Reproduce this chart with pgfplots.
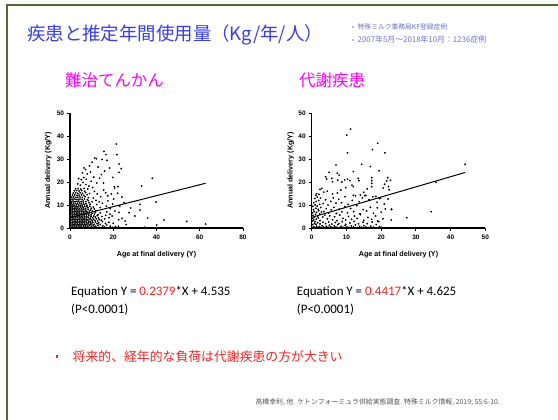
\documentclass[border=0pt]{standalone}
\usepackage{fontspec}
\setmainfont{Liberation Sans}
\newfontfamily\jp{Noto Sans CJK JP}
\newfontfamily\calib{Carlito}
\usepackage{pgfplots}
\pgfplotsset{compat=1.18}
\definecolor{frameGreen}{RGB}{84,106,48}
\definecolor{titleBlue}{RGB}{58,62,232}
\definecolor{noteBlue}{RGB}{105,115,205}
\definecolor{magentaT}{RGB}{255,0,255}
\definecolor{redT}{RGB}{245,35,35}
\definecolor{footGray}{RGB}{85,85,85}
\pgfplotsset{
  scatterstyle/.style={
    scale only axis, height=115bp,
    xmin=0, ymin=0, ymax=50,
    axis x line*=bottom, axis y line*=left,
    axis line style={line width=1.1bp, black},
    tick align=outside, major tick length=3bp,
    tick style={line width=0.9bp, black},
    ytick={0,10,20,30,40,50},
    /pgf/number format/assume math mode=true,
    tick label style={font=\fontsize{6.5}{7}\selectfont\bfseries},
    label style={font=\fontsize{7.2}{8}\selectfont\bfseries},
    yticklabel style={xshift=0.5bp},
    ylabel={Annual delivery (Kg/Y)},
    xlabel={Age at final delivery (Y)},
    xlabel style={at={(axis description cs:0.5,-0.235)}, anchor=center},
    clip=false,
  },
  dots/.style={only marks, mark=*, mark size=0.68bp, black, mark options={fill=black, draw=black}},
}
\begin{document}
\begin{tikzpicture}[x=1bp,y=1bp]
\path[use as bounding box] (0bp,0bp) rectangle (558bp,420bp);
\fill[white] (0bp,0bp) rectangle (558bp,420bp);
\draw[frameGreen, line width=2.3bp] (7bp,0bp) -- (7bp,415bp) -- (558bp,415bp);

\node[anchor=west, text=titleBlue, font=\jp\fontsize{18.5}{20}\selectfont, inner sep=0pt] at (27bp,385bp) {疾患と推定年間使用量（Kg/年/人）};
\fill[noteBlue] (353bp,393bp) circle (0.9bp);
\fill[noteBlue] (353bp,380bp) circle (0.9bp);
\node[anchor=west, text=noteBlue, font=\jp\fontsize{6.8}{7}\selectfont, inner sep=0pt] at (357.5bp,393bp) {特殊ミルク事務局KF登録症例};
\node[anchor=west, text=noteBlue, font=\jp\fontsize{7.9}{8}\selectfont, inner sep=0pt] at (357.5bp,380bp) {2007年5月～2018年10月：1236症例};

\node[anchor=west, text=magentaT, font=\jp\fontsize{16.5}{18}\selectfont, inner sep=0pt] at (65bp,340bp) {難治てんかん};
\node[anchor=west, text=magentaT, font=\jp\fontsize{16.5}{18}\selectfont, inner sep=0pt] at (299bp,340bp) {代謝疾患};

% Left plot
\begin{axis}[scatterstyle, at={(70bp,192bp)}, anchor=south west, width=173bp,
  xmax=80, xtick={0,20,40,60,80},
  ylabel style={at={(axis description cs:-0.125,0.5)}, anchor=center}]
\addplot[dots] coordinates {
(0.3,0.2)(1.1,0.3)(1.9,0.1)(2.8,0.2)(3.6,0.3)(4.4,0.1)(5.2,0.2)(6.1,0.3)(6.9,0.1)(7.7,0.2)(8.6,0.3)(9.5,0.1)(10.4,0.2)(11.3,0.4)(12.2,0.1)(13.4,0.3)(14.6,0.2)(16.1,0.4)(17.8,0.1)(19.5,0.3)(21.0,0.6)
(0.5,0.9)(1.3,1.0)(2.1,0.8)(2.9,0.9)(3.8,1.0)(4.6,0.8)(5.4,0.9)(6.3,1.0)(7.1,0.8)(8.0,0.9)(8.9,1.1)(9.8,0.8)(10.8,1.0)(11.9,0.7)(13.0,1.2)(15.2,0.9)(17.0,1.3)(18.6,0.8)
(0.2,1.6)(1.0,1.7)(1.8,1.5)(2.6,1.6)(3.4,1.7)(4.2,1.5)(5.0,1.6)(5.8,1.7)(6.6,1.5)(7.4,1.6)(8.3,1.8)(9.2,1.5)(10.1,1.7)(11.2,1.6)(12.5,1.9)(14.0,1.5)(16.4,2.0)
(0.4,2.3)(1.2,2.4)(2.0,2.2)(2.8,2.3)(3.6,2.4)(4.4,2.2)(5.2,2.3)(6.0,2.4)(6.8,2.2)(7.7,2.3)(8.6,2.5)(9.6,2.2)(10.6,2.4)(11.8,2.6)(13.3,2.2)(15.0,2.8)(18.0,2.5)
(0.3,3.0)(1.1,3.1)(1.9,2.9)(2.7,3.0)(3.5,3.1)(4.3,2.9)(5.1,3.0)(5.9,3.1)(6.7,2.9)(7.5,3.0)(8.4,3.2)(9.3,2.9)(10.3,3.1)(11.5,3.3)(12.8,3.0)(14.5,3.4)
(0.5,3.7)(1.3,3.8)(2.1,3.6)(2.9,3.7)(3.7,3.8)(4.5,3.6)(5.3,3.7)(6.1,3.8)(6.9,3.6)(7.8,3.7)(8.8,3.9)(9.8,3.6)(10.9,3.8)(12.2,4.0)(13.6,3.7)(16.0,4.0)
(0.2,4.4)(1.0,4.5)(1.8,4.3)(2.6,4.4)(3.4,4.5)(4.2,4.3)(5.0,4.4)(5.8,4.5)(6.6,4.3)(7.5,4.4)(8.4,4.6)(9.4,4.3)(10.5,4.5)(11.8,4.7)(13.2,4.4)
(0.4,5.1)(1.2,5.2)(2.0,5.0)(2.8,5.1)(3.6,5.2)(4.4,5.0)(5.2,5.1)(6.0,5.2)(6.8,5.0)(7.7,5.1)(8.7,5.3)(9.8,5.0)(11.0,5.2)(12.6,5.4)(14.8,5.0)
(0.3,5.8)(1.1,5.9)(1.9,5.7)(2.7,5.8)(3.5,5.9)(4.3,5.7)(5.1,5.8)(5.9,5.9)(6.7,5.7)(7.6,5.8)(8.6,6.0)(9.7,5.7)(11.3,6.1)(13.0,5.8)
(0.5,6.5)(1.3,6.6)(2.1,6.4)(2.9,6.5)(3.7,6.6)(4.5,6.4)(5.3,6.5)(6.2,6.6)(7.0,6.4)(7.9,6.5)(9.0,6.7)(10.2,6.4)(11.7,6.8)(14.0,6.6)
(0.3,7.2)(1.1,7.3)(1.9,7.1)(2.7,7.2)(3.5,7.3)(4.3,7.1)(5.2,7.2)(6.0,7.3)(6.9,7.1)(7.8,7.2)(8.9,7.4)(10.4,7.3)(12.0,7.6)
(0.5,7.9)(1.3,8.0)(2.1,7.8)(2.9,7.9)(3.8,8.0)(4.6,7.8)(5.5,7.9)(6.4,8.0)(7.3,7.8)(8.4,8.1)(9.6,7.9)(11.2,8.3)
(0.3,8.6)(1.1,8.7)(1.9,8.5)(2.7,8.6)(3.6,8.7)(4.4,8.5)(5.3,8.6)(6.2,8.7)(7.2,8.5)(8.3,8.8)(9.8,8.6)
(0.6,9.3)(1.4,9.4)(2.3,9.2)(3.1,9.3)(4.0,9.4)(4.9,9.2)(5.8,9.3)(6.8,9.4)(7.9,9.2)(9.2,9.5)(10.8,9.1)
(0.4,10.0)(1.2,10.1)(2.0,9.9)(2.9,10.0)(3.8,10.1)(4.7,9.9)(5.6,10.0)(6.6,10.2)(7.8,9.9)(9.3,10.3)
(0.7,10.8)(1.6,10.9)(2.5,10.7)(3.4,10.8)(4.3,10.9)(5.2,10.7)(6.2,10.9)(7.4,10.6)(8.8,11.0)
(0.5,11.6)(1.4,11.7)(2.3,11.5)(3.2,11.6)(4.1,11.7)(5.1,11.5)(6.1,11.7)(7.3,11.5)(8.5,11.9)(10.2,11.4)
(1.0,12.5)(1.9,12.6)(2.8,12.4)(3.7,12.5)(4.6,12.6)(5.6,12.4)(6.7,12.6)(8.0,12.3)
(0.8,13.4)(1.7,13.5)(2.7,13.3)(3.6,13.4)(4.6,13.5)(5.7,13.3)(7.0,13.6)(8.5,13.2)
(1.2,14.3)(2.2,14.4)(3.2,14.2)(4.2,14.3)(5.3,14.4)(6.4,14.2)(7.9,14.5)
(1.5,15.2)(2.6,15.3)(3.6,15.1)(4.7,15.3)(5.8,15.1)(7.2,15.4)(9.0,15.0)
(2.0,16.2)(3.1,16.3)(4.2,16.1)(5.4,16.3)(6.8,16.0)
(2.6,17.0)(3.8,17.1)(5.0,16.9)(6.5,17.2)(8.2,17.0)
(15.7,33.3)(16.6,31.9)(17.1,29.4)(11.4,30.4)(12.2,30.1)(10.2,28.6)(18.3,26.1)(6.5,26.1)(7.2,25.4)(5.8,24.0)
(8.0,23.5)(9.5,24.3)(14.5,23.2)(13.7,21.7)(4.0,21.5)(5.2,21.0)(6.4,22.0)(7.5,21.2)(9.8,20.3)(11.0,22.1)
(12.4,19.6)(3.6,19.2)(4.8,18.6)(6.0,19.8)(7.4,18.9)(8.8,18.2)(10.5,17.6)(15.6,16.5)(16.5,15.3)(17.5,14.0)
(14.2,13.6)(12.6,14.8)(11.3,15.9)(10.8,13.0)(12.0,12.0)(13.5,11.4)(15.0,10.8)(16.8,9.5)(14.0,8.9)(12.4,10.2)
(20.7,17.4)(19.1,14.8)(21.4,36.5)(21.7,31.9)(22.7,27.8)(23.7,25.8)(22.7,24.2)(20.5,18.0)(22.2,18.0)(22.0,15.1)
(33.1,18.3)(38.1,21.6)(39.8,11.3)(32.4,10.3)(32.4,7.8)(28.1,8.7)(27.3,6.7)(22.7,6.8)(20.8,7.4)(19.7,10.4)
(30.0,5.2)(35.9,4.3)(43.5,3.5)(54.0,2.9)(62.7,1.7)(40.1,1.3)(34.4,0.3)(22.5,3.6)(24.0,4.2)(25.5,3.0)
(20.0,2.0)(22.4,0.8)(26.0,1.5)(18.5,6.0)(17.0,7.0)(18.0,4.5)(16.5,5.5)(19.5,5.2)(17.5,11.8)(18.6,8.4)
(20.2,12.6)(23.0,9.5)(25.0,11.0)(24.0,13.5)(15.5,19.5)(13.0,26.5)(9.0,27.0)(14.8,29.8)(19.8,22.0)(16.0,24.8)
};
\addplot[black, line width=1bp] coordinates {(0,4.535) (62.7,19.45)};
\end{axis}

% Right plot
\begin{axis}[scatterstyle, at={(311.7bp,192bp)}, anchor=south west, width=173.6bp,
  xmax=50, xtick={0,10,20,30,40,50},
  ylabel style={at={(axis description cs:-0.121,0.5)}, anchor=center}]
\addplot[dots] coordinates {
(0.2,0.2)(0.6,0.5)(1.0,0.1)(1.4,0.8)(1.8,0.3)(2.2,0.6)(2.6,0.2)(3.0,1.0)(3.4,0.4)(3.8,0.1)(4.2,0.7)(4.7,0.3)(5.1,1.2)(5.5,0.5)(6.0,0.2)(6.5,0.9)(7.0,0.4)(7.5,1.4)(8.0,0.2)(8.5,0.7)
(9.0,0.3)(9.6,1.1)(10.2,0.5)(10.8,0.2)(11.4,0.9)(12.0,0.4)(12.6,1.3)(13.2,0.2)(13.8,0.7)(14.4,0.3)(15.0,1.0)(15.6,0.5)(16.3,0.2)(17.0,0.8)(17.8,0.4)(18.6,1.5)(19.5,0.6)(20.2,0.3)
(0.3,1.5)(0.8,2.0)(1.2,1.6)(1.7,2.3)(2.4,1.8)(3.2,2.5)(4.0,1.9)(4.9,2.6)(5.8,1.7)(6.8,2.4)(7.8,1.9)(8.8,2.8)(9.8,1.6)(11.0,2.2)(12.2,2.9)(13.5,1.8)(14.8,2.5)(16.0,1.9)(17.4,2.6)(19.0,3.0)
(0.2,3.0)(0.6,3.5)(1.0,2.8)(0.3,4.2)(0.8,4.8)(1.3,3.9)(1.9,4.4)(2.4,3.2)(0.4,5.5)(1.1,5.9)(1.7,5.2)(2.3,6.1)(0.2,6.6)(0.7,7.2)(1.4,6.8)(2.0,7.5)(2.8,6.9)(0.5,8.0)(1.2,8.6)(1.9,8.1)
(2.6,8.9)(0.3,9.4)(1.0,10.0)(1.6,9.5)(2.3,10.3)(0.6,11.0)(1.3,11.5)(2.0,12.0)(0.9,12.8)(1.6,13.4)(2.5,13.0)(1.2,14.2)(2.1,14.6)
(3.2,4.8)(3.8,5.6)(4.5,4.0)(5.2,5.3)(6.0,3.6)(6.6,4.9)(7.3,3.2)(8.1,5.6)(9.0,4.2)(9.8,3.5)(10.6,5.0)(11.5,3.8)(12.3,5.2)(13.1,4.1)(14.0,5.8)(15.0,3.3)(16.2,4.6)(17.3,3.8)(18.4,5.2)(19.3,2.8)(20.5,4.0)
(3.5,7.2)(4.2,8.4)(4.9,6.5)(5.6,7.9)(6.4,9.0)(7.1,6.3)(7.9,8.2)(8.7,7.0)(9.5,9.3)(10.3,6.6)(11.2,8.5)(12.1,7.1)(13.0,9.7)(13.9,6.2)(14.8,8.0)(15.8,7.4)(16.9,9.0)(17.8,6.4)(18.9,8.8)(20.0,6.9)(21.2,8.3)
(3.3,10.6)(4.0,12.3)(4.7,10.0)(5.5,11.6)(6.2,13.1)(7.0,10.8)(7.8,12.5)(8.6,11.0)(9.6,13.6)(10.5,10.3)(11.7,12.0)(12.6,14.0)(13.7,11.4)(14.6,13.0)(15.6,14.2)(16.5,12.3)(17.6,13.6)(18.8,11.2)(19.8,13.0)(20.9,10.4)
(22.0,12.6)(23.0,8.1)(22.9,3.5)(2.9,17.2)(1.4,14.9)(3.5,15.6)(4.5,16.0)(6.0,14.8)(7.4,15.2)(12.0,14.2)(14.0,14.4)(15.3,14.0)(18.5,13.8)(19.5,12.8)
(11.2,43.0)(10.1,40.4)(10.3,32.7)(19.0,36.8)(17.5,34.1)(21.1,32.7)(14.4,27.7)(7.0,27.4)(16.9,26.7)(19.4,24.9)(12.0,24.5)(5.0,24.2)(7.4,23.8)(7.9,23.0)(4.0,22.3)(4.3,21.3)(5.8,21.6)(6.0,20.1)(7.5,20.8)(8.7,20.0)
(9.5,20.9)(10.3,21.2)(11.0,20.6)(11.6,18.6)(12.0,18.0)(13.4,21.6)(13.6,20.6)(17.3,21.9)(17.3,20.6)(17.3,19.4)(17.3,18.0)(21.9,21.9)(21.6,20.5)(21.0,19.0)(20.6,17.4)(22.1,18.0)(22.7,20.7)(22.3,16.6)
(44.2,27.7)(35.8,19.9)(34.4,7.1)(27.4,4.5)(23.0,8.1)(16.0,17.0)(15.0,15.5)(9.8,17.5)(8.4,16.5)(2.4,16.8)
};
\addplot[black, line width=1bp] coordinates {(0,4.625) (44.2,24.15)};
\end{axis}

\node[anchor=west, font=\calib\fontsize{13}{15}\selectfont, inner sep=0pt] at (71bp,128.3bp) {Equation Y = \textcolor{redT}{0.2379}*X + 4.535};
\node[anchor=west, font=\calib\fontsize{13}{15}\selectfont, inner sep=0pt] at (71bp,110.7bp) {(P<0.0001)};
\node[anchor=west, font=\calib\fontsize{13}{15}\selectfont, inner sep=0pt] at (296.7bp,128.3bp) {Equation Y = \textcolor{redT}{0.4417}*X + 4.625};
\node[anchor=west, font=\calib\fontsize{13}{15}\selectfont, inner sep=0pt] at (296.7bp,110.7bp) {(P<0.0001)};

\fill[redT] (56bp,62.3bp) rectangle (58.2bp,64.5bp);
\node[anchor=west, text=redT, font=\jp\fontsize{12.9}{15}\selectfont, inner sep=0pt] at (72.5bp,63.3bp) {将来的、経年的な負荷は代謝疾患の方が大きい};

\node[anchor=east, text=footGray, font=\jp\fontsize{6.9}{7}\selectfont, inner sep=0pt] at (500bp,17.3bp) {高橋幸利, 他. ケトンフォーミュラ供給実態調査. 特殊ミルク情報, 2019; 55:6-10.};
\end{tikzpicture}
\end{document}
